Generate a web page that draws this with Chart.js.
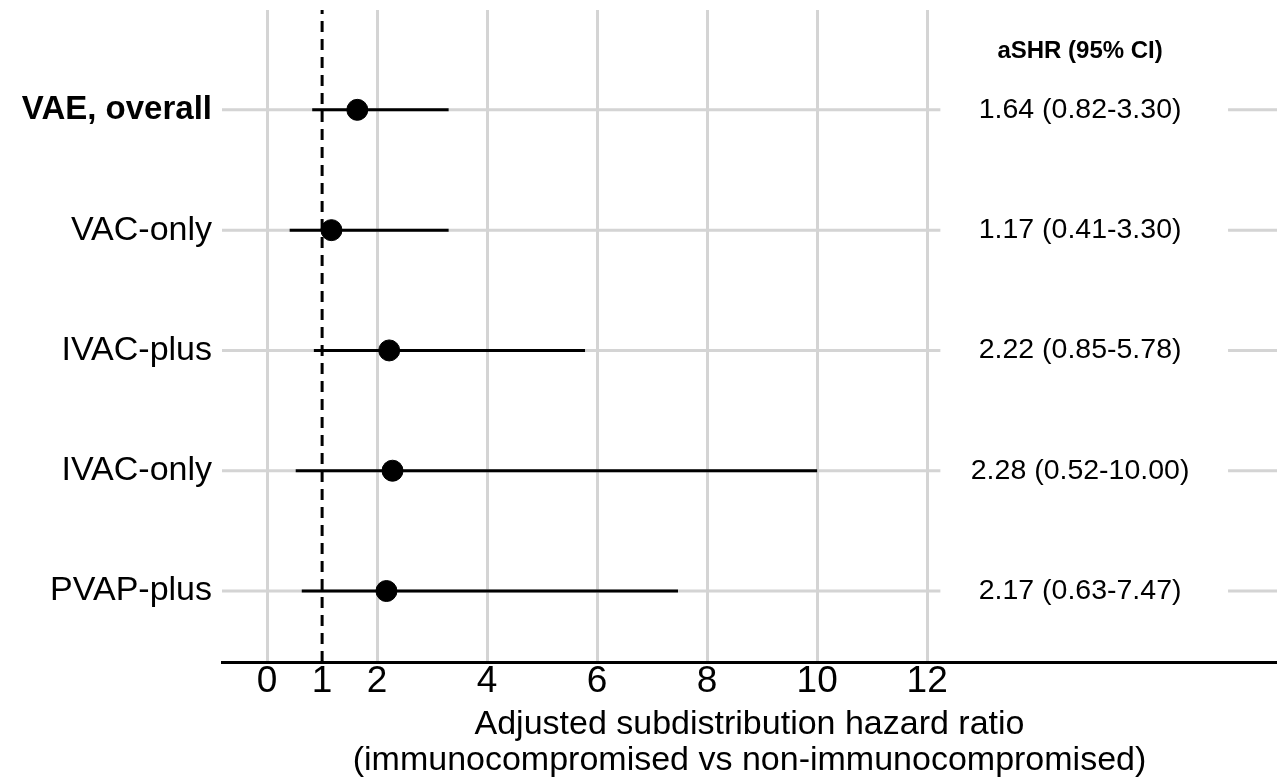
<!DOCTYPE html>
<html>
<head>
<meta charset="utf-8">
<title>aSHR forest plot</title>
<script src="https://cdn.jsdelivr.net/npm/chart.js@4.4.0/dist/chart.umd.min.js"></script>
<style>
    html, body { margin: 0; padding: 0; background: #fff; overflow: hidden; }
    canvas { display: block; }
</style>
</head>
<body>
<canvas id="forestChart" width="1277" height="780"></canvas>
<script>
// 数据
const outcomes = ['VAE, overall', 'VAC-only', 'IVAC-plus', 'IVAC-only', 'PVAP-plus'];
const estimates = [1.64, 1.17, 2.22, 2.28, 2.17];
const lowerCI = [0.82, 0.41, 0.85, 0.52, 0.63];
const upperCI = [3.30, 3.30, 5.78, 10.00, 7.47];
const ciLabels = ['1.64 (0.82-3.30)', '1.17 (0.41-3.30)', '2.22 (0.85-5.78)', '2.28 (0.52-10.00)', '2.17 (0.63-7.47)'];
const xTicks = [0, 1, 2, 4, 6, 8, 10, 12];
const columnHeader = 'aSHR (95% CI)';

const FONT = "'Liberation Sans', Arial, Helvetica, sans-serif";
const X_MIN = -0.82, X_MAX = 18.36;
const Y_MIN = 0.41, Y_MAX = 5.83;
const NULL_VALUE = 1;
const GRID_COLOR = '#d4d4d4';

// 每行在 y 轴上的位置（第一行在最上面）
const rowY = outcomes.map((_, i) => outcomes.length - i);

// 置信区间线段，每行一个数据集
const ciDatasets = outcomes.map((name, i) => ({
    type: 'line',
    label: name + ' CI',
    data: [{ x: lowerCI[i], y: rowY[i] }, { x: upperCI[i], y: rowY[i] }],
    borderColor: '#000',
    borderWidth: 3,
    pointRadius: 0,
    order: 2
}));

// 横向网格线 + 右侧文字列
const forestPlugin = {
    id: 'forestExtras',
    beforeDatasetsDraw(chart) {
        const { ctx, chartArea, scales } = chart;
        const gapStart = scales.x.getPixelForValue(12.24);
        const gapEnd = scales.x.getPixelForValue(17.47);
        ctx.save();
        ctx.strokeStyle = GRID_COLOR;
        ctx.lineWidth = 3;
        rowY.forEach(v => {
            const y = scales.y.getPixelForValue(v);
            ctx.beginPath();
            ctx.moveTo(chartArea.left, y);
            ctx.lineTo(gapStart, y);
            ctx.moveTo(gapEnd, y);
            ctx.lineTo(chartArea.right, y);
            ctx.stroke();
        });
        ctx.restore();
    },
    afterDatasetsDraw(chart) {
        const { ctx, scales } = chart;
        const cx = scales.x.getPixelForValue(14.78);
        ctx.save();
        ctx.fillStyle = '#000';
        ctx.textAlign = 'center';
        ctx.textBaseline = 'middle';
        ctx.font = 'bold 24px ' + FONT;
        ctx.fillText(columnHeader, cx, scales.y.getPixelForValue(5.49));
        ctx.font = '28.5px ' + FONT;
        ciLabels.forEach((t, i) => {
            ctx.fillText(t, cx, scales.y.getPixelForValue(rowY[i]));
        });
        ctx.restore();
    }
};

new Chart(document.getElementById('forestChart'), {
    type: 'scatter',
    data: {
        datasets: [
            {
                label: 'aSHR',
                data: estimates.map((v, i) => ({ x: v, y: rowY[i] })),
                backgroundColor: '#000',
                borderColor: '#000',
                pointRadius: 10.5,
                pointHoverRadius: 10.5,
                order: 0
            },
            ...ciDatasets,
            {
                type: 'line',
                label: 'null',
                data: [{ x: NULL_VALUE, y: Y_MIN }, { x: NULL_VALUE, y: Y_MAX }],
                borderColor: '#000',
                borderWidth: 3,
                borderDash: [11, 7],
                pointRadius: 0,
                order: 1
            }
        ]
    },
    options: {
        responsive: false,
        animation: false,
        layout: { autoPadding: false, padding: { top: 10, right: 0, left: 0, bottom: 0 } },
        plugins: {
            legend: { display: false },
            tooltip: { enabled: false }
        },
        scales: {
            x: {
                type: 'linear',
                min: X_MIN,
                max: X_MAX,
                afterBuildTicks: scale => {
                    scale.ticks = xTicks.map(v => ({ value: v }));
                },
                afterFit: scale => {
                    scale.height = 118;
                    scale.paddingLeft = 0;
                    scale.paddingRight = 0;
                },
                grid: {
                    drawTicks: false,
                    lineWidth: 3,
                    color: c => (c.tick && c.tick.value === NULL_VALUE ? 'rgba(0,0,0,0)' : GRID_COLOR)
                },
                border: { display: true, color: '#000', width: 3 },
                ticks: {
                    color: '#000',
                    padding: 1,
                    maxRotation: 0,
                    autoSkip: false,
                    font: { family: FONT, size: 37, lineHeight: 1 },
                    callback: v => String(v)
                },
                title: {
                    display: true,
                    text: ['Adjusted subdistribution hazard ratio', '(immunocompromised vs non-immunocompromised)'],
                    color: '#000',
                    font: { family: FONT, size: 34, lineHeight: 1.06 },
                    padding: { top: 0, bottom: 1 }
                }
            },
            y: {
                type: 'linear',
                min: Y_MIN,
                max: Y_MAX,
                afterBuildTicks: scale => {
                    scale.ticks = rowY.map(v => ({ value: v }));
                },
                afterFit: scale => {
                    scale.width = 222;
                    scale.paddingTop = 0;
                    scale.paddingBottom = 0;
                },
                grid: { display: false, drawTicks: false },
                border: { display: false },
                ticks: {
                    color: '#000',
                    padding: 10,
                    autoSkip: false,
                    font: c => {
                        const isOverall = c.tick && c.tick.value === rowY[0];
                        return { family: FONT, size: isOverall ? 33 : 34, weight: isOverall ? 'bold' : 'normal' };
                    },
                    callback: v => {
                        const i = rowY.indexOf(v);
                        return i >= 0 ? outcomes[i] : '';
                    }
                }
            }
        }
    },
    plugins: [forestPlugin]
});
</script>
</body>
</html>
